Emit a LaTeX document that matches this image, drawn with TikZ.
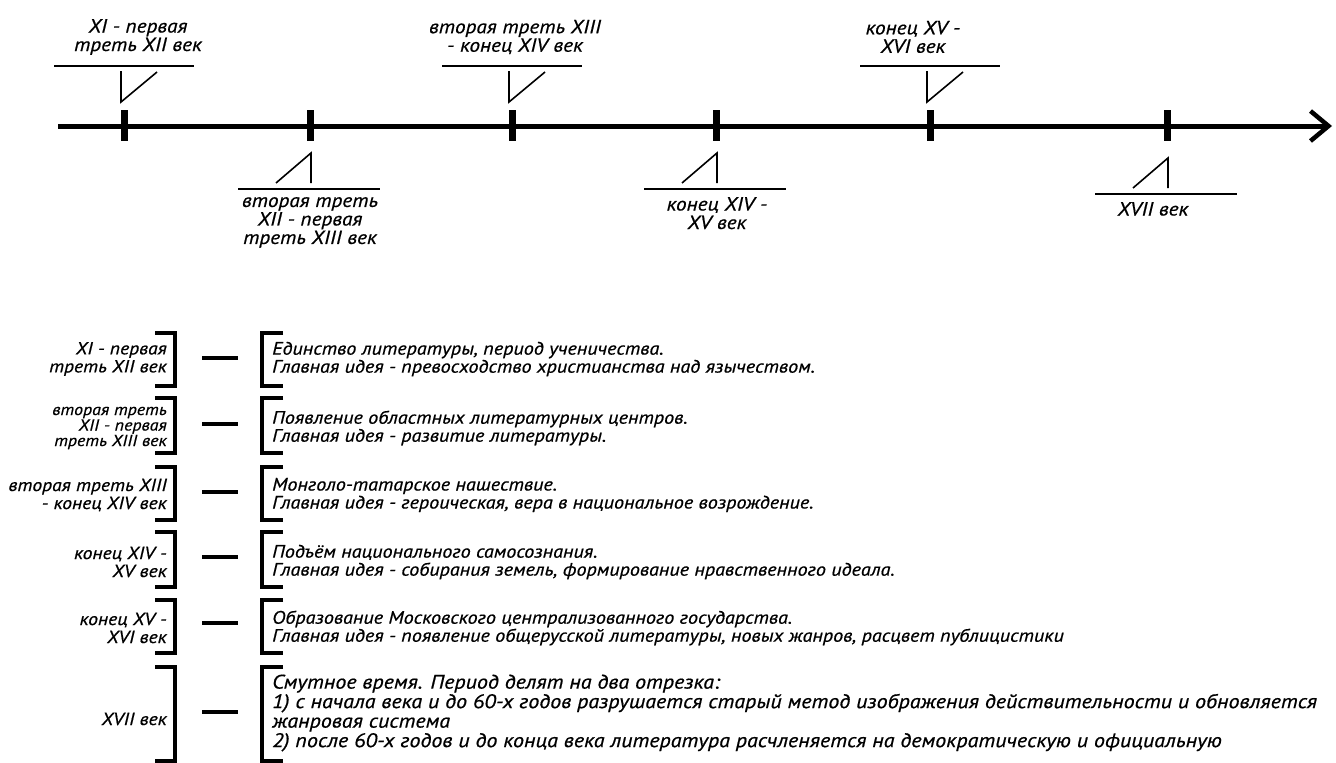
\documentclass[tikz,border=0pt]{standalone}
\usepackage{fontspec}
\newfontfamily\hand{PT Sans}[FakeStretch=1.12,FakeBold=0.6]
\usetikzlibrary{arrows.meta}

\begin{document}
\begin{tikzpicture}[x=1pt,y=-1pt]
    \tikzstyle{axisline} = [line width=5pt, -{Straight Barb[length=18pt,width=30pt,line width=4.5pt]}];
    \tikzstyle{tickbar} = [line width=7pt];
    \tikzstyle{pointer} = [line width=1.6pt];
    \tikzstyle{timelabel} = [align=center, inner sep=0pt, font=\hand\itshape\fontsize{19}{18.5}\selectfont];
    \tikzstyle{bracket} = [line width=4pt];
    \tikzstyle{dashline} = [line width=4.5pt];
    \tikzstyle{period} = [align=right, anchor=east, inner sep=0pt, font=\hand\itshape\fontsize{17.5}{18}\selectfont];
    \tikzstyle{event} = [align=left, anchor=west, inner sep=0pt, font=\hand\itshape\fontsize{18}{18}\selectfont];
    \useasboundingbox (0,0) rectangle (1336,763);

    % time axis with ticks
    \coordinate (start) at (58,126);
    \coordinate (end) at (1332,126);
    \draw[axisline] (start) -- (end);
    \foreach \x in {124,310,512,716,930,1167}
        \draw[tickbar] (\x,110) -- (\x,141);

    % periods above the axis
    \foreach \n/\x/\tx/\txt in {1/124/138/{XI - первая\\треть XII век},
                                3/512/515/{вторая треть XIII\\- конец XIV век},
                                5/930/913/{конец XV -\\XVI век}}
    {
        \node[timelabel] (up\n) at (\tx,37) {\txt};
        \draw[pointer] (\x-70,66) -- (\x+70,66);
        \draw[pointer] (\x-3,71) -- (\x-3,102) -- (\x+33,72);
    }

    % periods below the axis
    \foreach \n/\x/\tx/\yl/\txt in {2/310/310/189/{вторая треть\\XII - первая\\треть XIII век},
                                    4/716/717/189/{конец XIV -\\XV век},
                                    6/1167/1153/194/{XVII век}}
    {
        \node[timelabel, anchor=north] (down\n) at (\tx,\yl+8) {\txt};
        \draw[pointer] (\x-72,\yl) -- (\x+70,\yl);
        \draw[pointer] (\x-34,\yl-6) -- (\x+1,\yl-36) -- (\x+1,\yl-6);
    }

    % table of periods
    \foreach \n/\top/\bot/\d in {1/333/386/358, 2/398/453/424, 3/467/520/492,
                                 4/532/587/557, 5/600/653/623, 6/667/761/712}
    {
        \draw[bracket] (155,\top) -- (175,\top) -- (175,\bot) -- (155,\bot);
        \draw[dashline] (202,\d) -- (238,\d);
        \draw[bracket] (283,\top) -- (262,\top) -- (262,\bot) -- (283,\bot);
    }

    \node[period] (p1) at (167,359) {XI - первая\\треть XII век};
    \node[period, font=\hand\itshape\fontsize{16}{15.5}\selectfont] (p2) at (167,428) {вторая треть\\XII - первая\\треть XIII век};
    \node[period] (p3) at (167,495) {вторая треть XIII\\- конец XIV век};
    \node[period] (p4) at (167,562) {конец XIV -\\XV век};
    \node[period] (p5) at (167,628) {конец XV -\\XVI век};
    \node[period] (p6) at (167,719) {XVII век};

    \node[event] (e1) at (272,359) {Единство литературы, период ученичества.\\Главная идея - превосходство христианства над язычеством.};
    \node[event] (e2) at (272,428) {Появление областных литературных центров.\\Главная идея - развитие литературы.};
    \node[event] (e3) at (272,495) {Монголо-татарское нашествие.\\Главная идея - героическая, вера в национальное возрождение.};
    \node[event] (e4) at (272,562) {Подъём национального самосознания.\\Главная идея - собирания земель, формирование нравственного идеала.};
    \node[event] (e5) at (272,628) {Образование Московского централизованного государства.\\Главная идея - появление общерусской литературы, новых жанров, расцвет публицистики};
    \node[event, font=\hand\itshape\fontsize{19.7}{19.5}\selectfont] (e6) at (272,713) {Смутное время. Период делят на два отрезка:\\1) с начала века и до 60-х годов разрушается старый метод изображения действительности и обновляется\\жанровая система\\2) после 60-х годов и до конца века литература расчленяется на демократическую и официальную};
\end{tikzpicture}
\end{document}
